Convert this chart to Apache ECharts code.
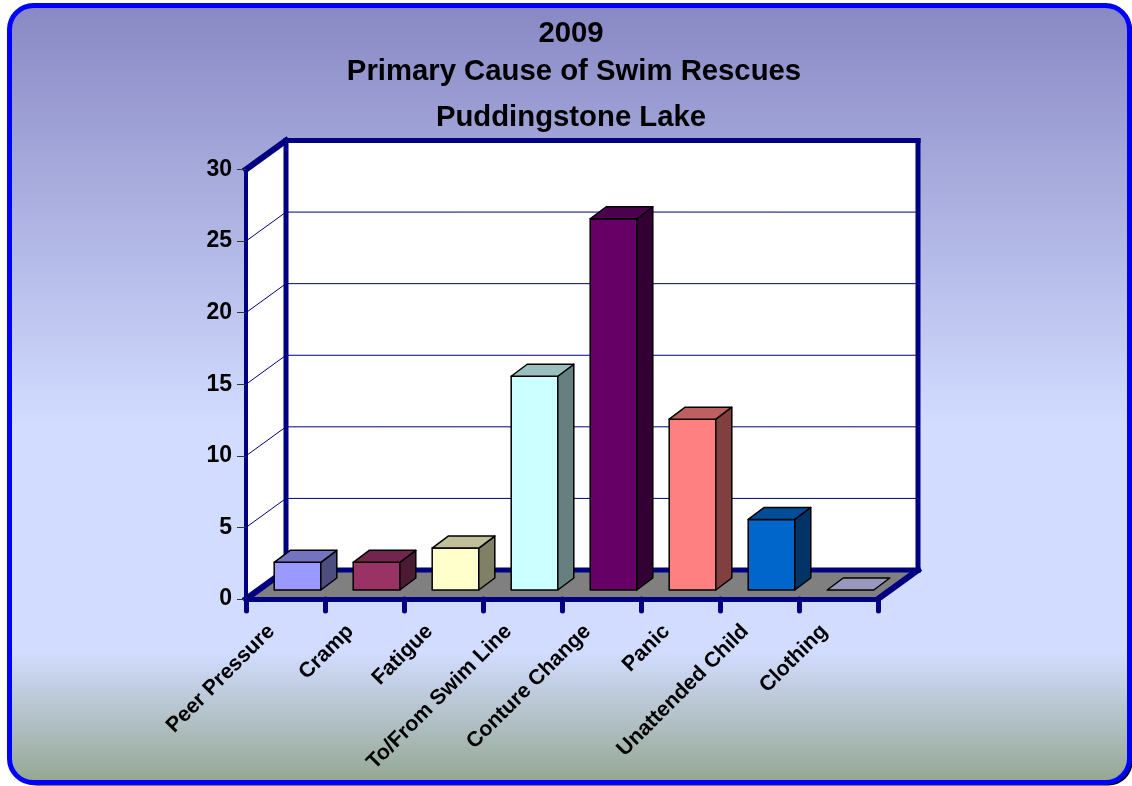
<!DOCTYPE html>
<html>
<head>
<meta charset="utf-8">
<style>html,body{margin:0;padding:0;background:#fff}#c{width:1132px;height:786px}</style>
<script src="https://cdn.jsdelivr.net/npm/echarts@6/dist/echarts.min.js"></script>
</head>
<body>
<div id="c"></div>
<script>
const titleLines = ['2009', 'Primary Cause of Swim Rescues', 'Puddingstone Lake'];
const categories = ['Peer Pressure', 'Cramp', 'Fatigue', 'To/From Swim Line', 'Conture Change', 'Panic', 'Unattended Child', 'Clothing'];
const rescues = [2, 2, 3, 15, 26, 12, 5, 0];
const barColors = ['#9999ff', '#993366', '#ffffcc', '#ccffff', '#660066', '#ff8080', '#0066cc', '#ccccff'];
const yTicks = [0, 5, 10, 15, 20, 25, 30];

const NAVY = '#000080';
const DX = 40, DY = -29;          // wall depth
const BDX = 16, BDY = -12;        // bar depth
const OX = 12, OY = -9, OYT = -8; // bar offset from the front edge

function shade(hex, f) {
  const n = parseInt(hex.slice(1), 16);
  const p = s => Math.round(((n >> s) & 255) * f);
  return 'rgb(' + p(16) + ',' + p(8) + ',' + p(0) + ')';
}
function poly(points, fill, z2) {
  return { type: 'polygon', shape: { points }, z2: z2 || 0,
    style: { fill, stroke: '#000', lineWidth: 1.5, lineJoin: 'round' } };
}
function seg(x1, y1, x2, y2, w, z2) {
  return { type: 'line', shape: { x1, y1, x2, y2 }, z2: z2 || 0,
    style: { stroke: NAVY, lineWidth: w, lineCap: 'square' } };
}

function renderFrame(params, api) {
  const c = params.coordSys;
  const L = c.x, R = c.x + c.width, T = c.y, B = c.y + c.height;
  const kids = [];
  kids.push({ type: 'polygon', shape: { points: [[L, T], [L + DX, T + DY], [L + DX, B + DY], [L, B]] }, style: { fill: '#fff' } });
  kids.push({ type: 'rect', shape: { x: L + DX, y: T + DY, width: c.width, height: c.height }, style: { fill: '#fff' } });
  kids.push({ type: 'polygon', shape: { points: [[L, B], [L + DX, B + DY], [R + DX, B + DY], [R, B]] }, style: { fill: '#808080' } });
  yTicks.slice(1, -1).forEach(t => {
    const y = api.coord([0, t])[1];
    kids.push({ type: 'polyline', shape: { points: [[L, y], [L + DX, y + DY], [R + DX, y + DY]] }, z2: 1,
      style: { fill: 'none', stroke: NAVY, lineWidth: 1 } });
  });
  kids.push(seg(L, T, L + DX, T + DY, 6, 2));
  kids.push(seg(L + DX, T + DY, R + DX, T + DY, 5, 2));
  kids.push(seg(L + DX, T + DY, L + DX, B + DY, 5, 2));
  kids.push(seg(R + DX, T + DY, R + DX, B + DY, 5, 2));
  kids.push(seg(L + DX, B + DY, R + DX, B + DY, 5, 2));
  kids.push(seg(L, B, L + DX, B + DY, 6, 2));
  kids.push(seg(R, B, R + DX, B + DY, 6, 2));
  return { type: 'group', children: kids };
}

function renderBar(params, api) {
  const i = api.value(0), v = api.value(1);
  const w = api.size([1, 0])[0] * 0.59;
  const top = api.coord([i, v]);
  const bot = api.coord([i, 0]);
  const x0 = top[0] + OX - w / 2, x1 = x0 + w;
  const yT = top[1] + (v > 0 ? OYT : OY), yB = bot[1] + OY;
  const col = barColors[i];
  const kids = [];
  if (v > 0) {
    kids.push(poly([[x0, yB], [x1, yB], [x1, yT], [x0, yT]], col));
    kids.push(poly([[x1, yB], [x1 + BDX, yB + BDY], [x1 + BDX, yT + BDY], [x1, yT]], shade(col, 0.5)));
  }
  kids.push(poly([[x0, yT], [x1, yT], [x1 + BDX, yT + BDY], [x0 + BDX, yT + BDY]], shade(col, 0.75)));
  return { type: 'group', children: kids };
}

const chart = echarts.init(document.getElementById('c'), null, { renderer: 'canvas', width: 1132, height: 786 });
const titleFont = { color: '#000', fontFamily: 'Liberation Sans', fontWeight: 'bold', fontSize: 29.3 };
chart.setOption({
  animation: false,
  title: [
    { text: titleLines[0], left: 566, top: 14.5, textAlign: 'center', textStyle: titleFont },
    { text: titleLines[1], left: 569, top: 52.5, textAlign: 'center', textStyle: titleFont },
    { text: titleLines[2], left: 566, top: 98.5, textAlign: 'center', textStyle: titleFont }
  ],
  graphic: { elements: [
    { type: 'rect', z: -20, shape: { x: 12.5, y: 8.5, width: 1120, height: 777, r: 24 }, style: { fill: '#000' } },
    { type: 'rect', z: -10, shape: { x: 9.5, y: 5.5, width: 1120, height: 777, r: 24 },
      style: { stroke: '#0000ff', lineWidth: 5,
        fill: new echarts.graphic.LinearGradient(0, 0, 0, 1, [
          { offset: 0, color: '#8888c4' },
          { offset: 0.54, color: '#d2dcff' },
          { offset: 0.83, color: '#d2dcff' },
          { offset: 1, color: '#93a68f' }
        ]) } }
  ] },
  grid: { left: 246, top: 169.5, width: 632, height: 429.5 },
  xAxis: {
    type: 'category', data: categories, z: 6,
    axisLine: { show: true, lineStyle: { color: NAVY, width: 5 } },
    axisTick: { show: true, alignWithLabel: false, length: 12, lineStyle: { color: NAVY, width: 5, cap: 'round' } },
    axisLabel: { interval: 0, rotate: 45, margin: 15, padding: [0, 20, 5, 0], color: '#000', fontFamily: 'Liberation Sans', fontWeight: 'bold', fontSize: 21.3 }
  },
  yAxis: {
    type: 'value', min: 0, max: 30, interval: 5, z: 6,
    axisLine: { show: true, lineStyle: { color: NAVY, width: 4 } },
    axisTick: { show: true, length: 9, lineStyle: { color: '#333', width: 1 } },
    splitLine: { show: false },
    axisLabel: { margin: 14, color: '#000', fontFamily: 'Liberation Sans', fontWeight: 'bold', fontSize: 23 }
  },
  series: [
    { type: 'custom', z: 1, silent: true, renderItem: renderFrame, data: [[0, 0]], encode: { x: 0, y: 1 } },
    { type: 'custom', z: 3, renderItem: renderBar, data: rescues.map((v, i) => [i, v]), encode: { x: 0, y: 1 } }
  ]
});
</script>
</body>
</html>
